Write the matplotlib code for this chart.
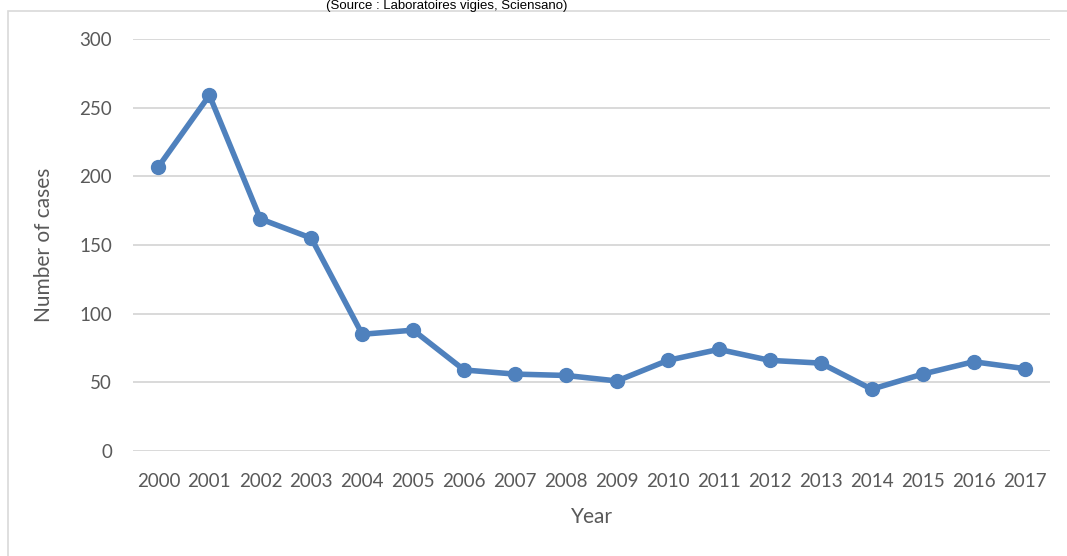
import matplotlib
matplotlib.use("Agg")
import matplotlib.pyplot as plt
from matplotlib.patches import Rectangle

# ---------------------------------------------------------------------------
years = ["2000", "2001", "2002", "2003", "2004", "2005", "2006", "2007", "2008",
         "2009", "2010", "2011", "2012", "2013", "2014", "2015", "2016", "2017"]
cases = [207, 259, 169, 155, 85, 88, 59, 56, 55, 51, 66, 74, 66, 64, 45, 56, 65, 60]
y_ticks = [0, 50, 100, 150, 200, 250, 300]

TITLE = "(Source : Laboratoires vigies, Sciensano)"
LINE_COLOR = "#4F81BD"
TEXT_COLOR = "#595959"
GRID_COLOR = "#D9D9D9"

W, H = 1067, 556
plt.rcParams["font.family"] = ["Lato", "DejaVu Sans"]

fig = plt.figure(figsize=(W / 100, H / 100), dpi=100)
# plot area in pixels: x 133..1050, y 39..451
ax = fig.add_axes([133 / W, 1 - 451 / H, (1050 - 133) / W, (451 - 39) / H])

x = list(range(len(years)))
ax.plot(x, cases, color=LINE_COLOR, lw=4.0, marker="o", ms=10,
        solid_capstyle="round", solid_joinstyle="round", zorder=3)

ax.set_xlim(-0.5, len(years) - 0.5)
ax.set_ylim(0, 300)
ax.set_yticks(y_ticks)
ax.set_xticks(x)
ax.set_xticklabels(years)
ax.yaxis.grid(True, color=GRID_COLOR, lw=1.4)
ax.set_axisbelow(True)
for s in ax.spines.values():
    s.set_visible(False)
ax.tick_params(axis="both", length=0, labelsize=13.5, labelcolor=TEXT_COLOR)
ax.tick_params(axis="y", pad=15)
ax.tick_params(axis="x", pad=16)

ax.set_xlabel("Year", fontsize=15, color=TEXT_COLOR, labelpad=12)
ax.set_ylabel("Number of cases", fontsize=15, color=TEXT_COLOR, labelpad=18)

# chart border (runs off the right and bottom edges)
fig.add_artist(Rectangle((8 / W, -0.05), 1.1, 1 - 11 / H + 0.05,
                         transform=fig.transFigure, fill=False,
                         edgecolor=GRID_COLOR, lw=1.2))

# source note above the border
fig.text(447 / W, 1 - 0.5 / H, TITLE, ha="center", va="top", fontsize=9.5,
         color="black", family=["Liberation Sans", "DejaVu Sans"])

fig.savefig("out.png", dpi=100)
